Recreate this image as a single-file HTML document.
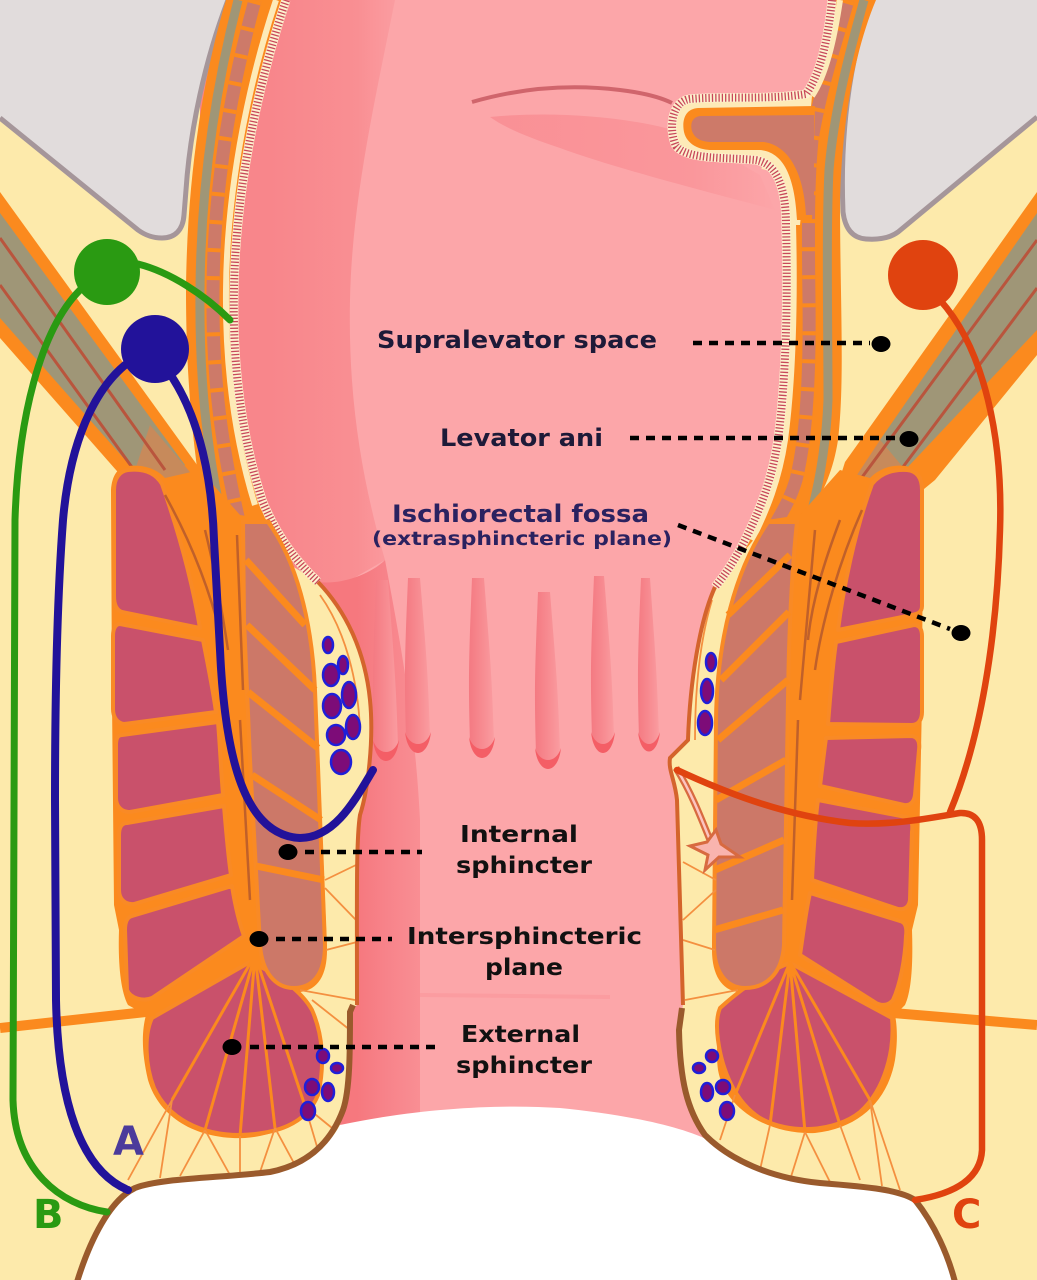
<!DOCTYPE html>
<html><head><meta charset="utf-8"><style>html,body{margin:0;padding:0;background:#fff}svg{display:block}</style></head>
<body>
<svg width="1037" height="1280" viewBox="0 0 1037 1280" xmlns="http://www.w3.org/2000/svg">
<defs>
<linearGradient id="dk" gradientUnits="userSpaceOnUse" x1="270" y1="0" x2="405" y2="0">
<stop offset="0" stop-color="#f8868b"/><stop offset="0.65" stop-color="#f98f93"/><stop offset="1" stop-color="#fba0a4"/></linearGradient>
<linearGradient id="canal" gradientUnits="userSpaceOnUse" x1="357" y1="0" x2="422" y2="0">
<stop offset="0" stop-color="#f6787e"/><stop offset="0.45" stop-color="#f7838a"/><stop offset="1" stop-color="#f98f94"/></linearGradient>
<linearGradient id="colg" x1="0" y1="0" x2="1" y2="0">
<stop offset="0" stop-color="#f47a82"/><stop offset="0.5" stop-color="#f78a90"/><stop offset="1" stop-color="#fa9ca0"/></linearGradient>
<linearGradient id="wedge" gradientUnits="userSpaceOnUse" x1="490" y1="0" x2="780" y2="0">
<stop offset="0" stop-color="#f57078" stop-opacity="0.4"/><stop offset="0.7" stop-color="#f57078" stop-opacity="0.28"/><stop offset="1" stop-color="#f57078" stop-opacity="0"/></linearGradient>
</defs>

<!-- background fat -->
<rect x="0" y="0" width="1037" height="1280" fill="#fdeaab"/>

<!-- lumen -->
<path d="M 250,0 L 840,0 L 820,90 L 790,160 L 786,225 C 788,300 786,380 778,440 C 772,480 760,510 745,540 C 735,560 725,575 715,587 C 700,620 690,680 688,740 L 670,758 C 668,770 675,780 677,800 L 683,1005 L 679,1030 C 680,1080 687,1110 712,1142 L 340,1125 C 348,1100 350,1060 350,1012 L 357,1005 C 357,900 356,840 360,815 C 368,790 374,740 370,700 C 365,650 345,610 318,582 L 200,300 Z" fill="#fca6a9"/>
<path d="M 200,0 L 395,0 C 375,100 352,200 350,300 C 348,400 362,480 385,560 L 330,592 L 318,582 L 250,540 L 200,400 Z" fill="url(#dk)"/>
<path d="M 318,582 C 345,610 365,650 370,700 C 374,740 368,790 360,815 C 356,840 357,900 357,1005 L 350,1012 C 350,1060 348,1100 340,1125 L 420,1115 L 420,820 C 415,720 400,640 385,560 C 370,575 340,585 318,582 Z" fill="url(#canal)"/>
<path d="M 420,995 L 610,997" stroke="#fb9ca0" stroke-width="4"/>

<!-- fold shading -->
<path d="M 490,117 C 560,110 640,118 690,135 L 760,175 L 775,210 C 720,195 620,170 560,148 C 530,138 505,128 490,117 Z" fill="url(#wedge)"/>
<path d="M 472,102 C 520,88 570,84 620,90 C 645,93 662,98 672,103" fill="none" stroke="#d0656c" stroke-width="4"/>

<!-- anal columns -->
<g fill="url(#colg)">
<path d="M 376,580 C 373,660 372,680 374,745 C 380,762 392,762 398,745 C 396,680 394,660 388,580 Z"/>
<path d="M 408,578 C 405,650 404,672 406,737 C 412,754 424,754 430,737 C 428,672 426,650 420,578 Z"/>
<path d="M 472,578 C 469,655 468,677 470,742 C 476,759 488,759 494,742 C 492,677 490,655 484,578 Z"/>
<path d="M 538,592 C 535,668 534,688 536,753 C 542,770 554,770 560,753 C 558,688 556,668 550,592 Z"/>
<path d="M 594,576 C 591,650 590,672 592,737 C 598,754 608,754 614,737 C 612,672 610,650 604,576 Z"/>
<path d="M 641,578 C 638,650 637,672 639,737 C 644,754 653,754 659,737 C 657,672 655,650 650,578 Z"/>
</g>
<g fill="#f45e66">
<path d="M 373,740 C 376,768 396,768 399,740 C 394,756 378,756 373,740 Z"/>
<path d="M 405,732 C 408,760 428,760 431,732 C 426,748 410,748 405,732 Z"/>
<path d="M 469,737 C 472,765 492,765 495,737 C 490,753 474,753 469,737 Z"/>
<path d="M 535,748 C 538,776 558,776 561,748 C 556,764 540,764 535,748 Z"/>
<path d="M 591,732 C 594,760 612,760 615,732 C 610,748 596,748 591,732 Z"/>
<path d="M 638,732 C 641,758 657,758 660,732 C 655,748 643,748 638,732 Z"/>
</g>

<!-- grey regions -->
<path d="M 0,0 L 228,0 C 205,60 190,130 186,190 L 184,215 C 183,230 175,238 162,238 C 152,238 145,235 138,230 L 0,118 Z" fill="#e1dcdc"/>
<path d="M 228,0 C 205,60 190,130 186,190 L 184,215 C 183,230 175,238 162,238 C 152,238 145,235 138,230 L 0,118" fill="none" stroke="#a5969a" stroke-width="5"/>
<path d="M 872,0 L 1037,0 L 1037,117 L 898,232 C 890,238 880,240 866,239 C 852,238 845,228 843,212 C 840,140 848,60 872,0 Z" fill="#e1dcdc"/>
<path d="M 1037,117 L 898,232 C 890,238 880,240 866,239 C 852,238 845,228 843,212 C 840,140 848,60 872,0" fill="none" stroke="#a5969a" stroke-width="5"/>

<!-- levator ani -->
<path d="M 0,192 L 195,462 L 235,520 L 215,560 L 160,520 L 0,338 Z" fill="#fb8a1e"/>
<path d="M 0,213 L 185,465 L 150,488 L 0,318 Z" fill="#9f9677"/>
<path d="M 150,425 L 195,478 L 175,515 L 135,470 Z" fill="#c78a5b"/>
<path d="M 0,238 L 165,470 M 0,285 L 150,492" stroke="#b9553d" stroke-width="3"/>
<path d="M 1037,192 L 845,462 L 830,510 L 880,525 L 935,480 L 1037,355 Z" fill="#fb8a1e"/>
<path d="M 1037,213 L 880,440 L 905,470 L 1037,330 Z" fill="#9f9677"/>
<path d="M 880,440 L 905,470 L 880,505 L 855,478 Z" fill="#c78a5b"/>
<path d="M 1037,240 L 860,480 M 1037,288 L 882,495" stroke="#b9553d" stroke-width="3"/>

<!-- left wall -->
<path d="M 226,0 L 286,0 C 266,60 236,170 234,290 C 232,380 246,450 262,500 C 278,540 300,565 318,582 L 300,560 L 245,530 L 205,520 C 193,450 186,380 186,290 C 187,170 205,70 226,0 Z" fill="#fb8a1e"/>
<path d="M 238,0 C 220,70 201,170 200,290 C 199,380 207,450 222,520" fill="none" stroke="#9f9677" stroke-width="9"/>
<path d="M 255,0 C 236,70 214,170 213,290 C 212,380 222,450 240,525" fill="none" stroke="#cd7a69" stroke-width="13"/>
<path d="M 255,0 C 236,70 214,170 213,290 C 212,380 222,450 240,525" fill="none" stroke="#fb8a1e" stroke-width="13" stroke-dasharray="4 24"/>
<path d="M 276,0 C 256,60 227,170 226,290 C 225,380 238,450 255,505" fill="none" stroke="#fdeab8" stroke-width="6"/>
<path d="M 286,0 C 266,60 236,170 234,290 C 232,380 246,450 262,500 C 278,540 300,565 318,582" fill="none" stroke="#fdf1cf" stroke-width="9"/>
<path d="M 286,0 C 266,60 236,170 234,290 C 232,380 246,450 262,500 C 278,540 300,565 318,582" fill="none" stroke="#c8485a" stroke-width="8" stroke-dasharray="1.3 2"/>

<!-- right wall -->
<path d="M 832,0 L 876,0 C 855,50 842,120 840,200 C 840,300 845,380 838,440 C 832,480 815,510 797,525 L 768,522 L 715,587 C 725,575 735,560 745,540 C 760,510 772,480 778,440 C 786,380 788,300 786,225 L 806,94 C 820,75 828,40 832,0 Z" fill="#fb8a1e"/>
<path d="M 864,0 C 850,50 834,110 829,170 C 826,230 828,330 828,400 C 826,450 818,490 808,525" fill="none" stroke="#9f9677" stroke-width="9"/>
<path d="M 848,0 C 835,45 820,90 812,140 C 808,180 808,230 809,300 C 810,380 806,440 796,480 C 790,500 782,512 775,525" fill="none" stroke="#cd7a69" stroke-width="13"/>
<path d="M 848,0 C 835,45 820,90 812,140 C 808,180 808,230 809,300 C 810,380 806,440 796,480 C 790,500 782,512 775,525" fill="none" stroke="#fb8a1e" stroke-width="13" stroke-dasharray="4 24"/>
<path d="M 806,94 C 770,100 720,96 690,99 C 672,101 668,128 676,146 C 688,160 725,157 755,160 C 778,163 786,190 786,225 L 800,225 L 812,96 Z" fill="#fdeab8"/>
<path d="M 815,106 L 698,108 C 684,109 682,122 684,132 C 687,145 700,150 712,150 L 760,150 C 785,152 795,180 797,220 L 812,220 Z" fill="#fb8a1e"/>
<path d="M 814,115 L 700,116 C 692,117 690,124 692,131 C 695,139 702,142 712,142 L 764,142 C 790,146 804,175 806,215 L 814,215 Z" fill="#cd7a69"/>
<path d="M 840,0 C 834,40 826,75 812,96 M 762,166 C 785,170 793,195 793,225 C 795,300 793,380 785,440 C 779,480 767,510 752,540" fill="none" stroke="#fdeab8" stroke-width="6"/>
<path d="M 832,0 C 828,40 820,75 806,94 C 770,100 720,96 690,99 C 672,101 668,128 676,146 C 688,160 725,157 755,160 C 778,163 786,190 786,225 C 788,300 786,380 778,440 C 772,480 760,510 745,540 C 735,560 725,575 715,587" fill="none" stroke="#fdf1cf" stroke-width="9"/>
<path d="M 832,0 C 828,40 820,75 806,94 C 770,100 720,96 690,99 C 672,101 668,128 676,146 C 688,160 725,157 755,160 C 778,163 786,190 786,225 C 788,300 786,380 778,440 C 772,480 760,510 745,540 C 735,560 725,575 715,587" fill="none" stroke="#c8485a" stroke-width="8" stroke-dasharray="1.3 2"/>

<!-- left sphincter complex -->
<path d="M 128,466 C 145,464 158,470 165,478 L 200,470 L 240,515 L 270,520 C 292,556 312,618 316,680 L 327,950 C 327,975 318,990 300,992 C 318,1015 326,1050 322,1080 C 316,1115 285,1135 245,1138 C 200,1140 160,1120 148,1080 C 141,1050 142,1030 146,1015 L 128,1005 C 120,990 118,960 119,930 L 114,905 L 112,700 L 111,490 C 112,475 118,467 128,466 Z" fill="#fb8a1e"/>
<g fill="#c9516b" stroke="#f98a25" stroke-width="4" stroke-linejoin="round">
<path d="M 128,470 C 145,468 156,474 162,484 C 178,530 192,580 200,628 L 122,612 C 116,610 114,604 114,596 L 114,490 C 114,478 120,471 128,470 Z"/>
<path d="M 120,624 L 203,640 C 208,665 213,690 216,712 L 124,724 C 117,723 113,717 113,709 L 113,636 C 113,628 116,624 120,624 Z"/>
<path d="M 122,735 L 218,722 C 220,745 221,770 223,795 L 130,812 C 121,812 116,806 116,798 L 116,745 C 116,738 118,735 122,735 Z"/>
<path d="M 127,823 L 224,806 C 226,830 228,855 231,875 L 134,904 C 125,905 119,899 119,890 L 119,835 C 119,827 122,823 127,823 Z"/>
<path d="M 132,916 L 232,886 C 235,905 239,922 244,936 L 152,998 C 143,1002 130,998 127,990 L 125,930 C 125,922 127,917 132,916 Z"/>
<path d="M 152,1018 L 250,962 C 280,975 302,992 312,1010 C 323,1035 325,1065 318,1095 C 306,1125 275,1134 240,1135 C 200,1135 168,1118 154,1088 C 145,1065 144,1035 152,1018 Z"/>
</g>
<path d="M 243,522 L 268,522 C 296,560 312,620 315,690 L 325,945 C 325,975 312,988 294,988 C 275,988 262,972 260,945 L 250,760 L 244,620 Z" fill="#cc7868" stroke="#f98a25" stroke-width="4"/>
<path d="M 246,560 L 305,625 M 247,625 L 315,690 M 248,692 L 318,748 M 252,775 L 321,820 M 256,866 L 324,880" stroke="#fb8a1e" stroke-width="7"/>
<path d="M 0,1028 L 155,1011" stroke="#fb8a1e" stroke-width="10"/>
<path d="M 205,530 C 215,570 222,610 228,650 M 237,535 L 243,690 M 165,495 C 190,540 210,590 222,640 M 240,720 L 250,900" fill="none" stroke="#c0602a" stroke-width="2.5"/>
<path d="M 255,955 L 172,1100 M 255,955 L 205,1130 M 255,955 L 240,1136 M 255,955 L 275,1128 M 255,955 L 305,1106" stroke="#fb8a1e" stroke-width="3"/>
<path d="M 172,1100 L 128,1180 M 172,1100 L 160,1178 M 205,1130 L 180,1176 M 205,1130 L 230,1175 M 240,1136 L 240,1174 M 275,1128 L 260,1172 M 275,1128 L 295,1165 M 305,1106 L 318,1150 M 305,1106 L 332,1128 M 325,880 L 356,865 M 325,888 L 356,920 M 326,950 L 357,942 M 300,990 L 355,1000 M 312,1000 L 350,1030 M 320,595 C 345,630 358,680 360,730" fill="none" stroke="#f49040" stroke-width="1.8"/>

<!-- right sphincter complex -->
<path d="M 905,466 C 890,464 878,470 870,478 L 840,470 L 800,515 L 767,520 C 745,556 722,618 718,680 L 712,950 C 712,975 722,990 738,992 C 722,1010 714,1040 718,1070 C 725,1110 770,1135 815,1133 C 860,1128 888,1100 895,1060 C 898,1040 897,1025 895,1015 L 905,1005 C 912,990 913,960 912,930 L 918,905 L 922,700 L 923,490 C 922,475 915,467 905,466 Z" fill="#fb8a1e"/>
<g fill="#c9516b" stroke="#f98a25" stroke-width="4" stroke-linejoin="round">
<path d="M 907,470 C 918,471 922,479 922,490 L 922,606 C 922,612 918,614 912,615 L 838,630 C 843,590 855,530 872,484 C 880,474 892,469 907,470 Z"/>
<path d="M 914,625 C 920,625 922,630 922,636 L 922,712 C 922,720 918,725 912,725 L 828,724 C 830,700 832,670 836,642 Z"/>
<path d="M 912,736 C 918,737 920,742 919,750 L 915,795 C 914,802 910,806 904,805 L 820,786 C 822,770 824,752 826,738 Z"/>
<path d="M 906,817 C 912,818 913,824 912,832 L 910,900 C 909,907 905,910 898,909 L 812,880 C 813,860 815,820 818,800 Z"/>
<path d="M 900,921 C 906,922 907,928 906,936 C 905,960 900,985 893,1000 C 888,1006 882,1006 876,1003 L 800,955 C 803,935 806,910 810,893 Z"/>
<path d="M 790,963 L 892,1018 C 895,1050 885,1090 860,1112 C 835,1132 790,1135 760,1118 C 735,1102 722,1070 718,1040 C 716,1025 717,1015 720,1008 C 740,990 765,972 790,963 Z"/>
</g>
<path d="M 768,522 L 797,522 C 793,560 789,620 788,700 L 784,945 C 782,975 765,988 745,988 C 725,988 714,970 714,945 L 716,720 C 717,640 735,570 768,522 Z" fill="#cc7868" stroke="#f98a25" stroke-width="4"/>
<path d="M 790,555 L 728,615 M 789,612 L 721,680 M 788,680 L 718,740 M 786,760 L 716,800 M 784,840 L 715,870 M 783,910 L 714,930" stroke="#fb8a1e" stroke-width="7"/>
<path d="M 1037,1025 L 893,1013" stroke="#fb8a1e" stroke-width="10"/>
<path d="M 815,530 L 800,700 M 840,520 C 825,560 812,600 808,640 M 862,510 C 840,560 822,620 815,670 M 798,720 L 792,900" fill="none" stroke="#c0602a" stroke-width="2.5"/>
<path d="M 790,962 L 735,1095 M 790,962 L 770,1125 M 790,962 L 805,1132 M 790,962 L 840,1125 M 790,962 L 870,1100" stroke="#fb8a1e" stroke-width="3"/>
<path d="M 735,1095 L 720,1140 M 770,1125 L 760,1170 M 805,1132 L 790,1180 M 805,1132 L 830,1182 M 840,1125 L 860,1180 M 870,1100 L 900,1190 M 870,1100 L 882,1186 M 716,880 L 683,862 M 716,890 L 683,920 M 715,950 L 683,940 M 738,990 L 685,1000 M 712,600 C 700,640 695,690 695,740" fill="none" stroke="#f49040" stroke-width="1.8"/>

<!-- vessels -->
<g fill="#7d0c78" stroke="#1f1fd8" stroke-width="2.5">
<ellipse cx="328" cy="645" rx="5" ry="8"/>
<ellipse cx="343" cy="665" rx="5" ry="9"/>
<ellipse cx="331" cy="675" rx="8" ry="11"/>
<ellipse cx="349" cy="695" rx="7" ry="13"/>
<ellipse cx="332" cy="706" rx="9" ry="12"/>
<ellipse cx="353" cy="727" rx="7" ry="12"/>
<ellipse cx="336" cy="735" rx="9" ry="10"/>
<ellipse cx="341" cy="762" rx="10" ry="12"/>
<ellipse cx="323" cy="1056" rx="6" ry="7"/>
<ellipse cx="337" cy="1068" rx="6" ry="5"/>
<ellipse cx="312" cy="1087" rx="7" ry="8"/>
<ellipse cx="328" cy="1092" rx="6" ry="9"/>
<ellipse cx="308" cy="1111" rx="7" ry="9"/>
<ellipse cx="711" cy="662" rx="5" ry="9"/>
<ellipse cx="707" cy="691" rx="6" ry="12"/>
<ellipse cx="705" cy="723" rx="7" ry="12"/>
<ellipse cx="712" cy="1056" rx="6" ry="6"/>
<ellipse cx="699" cy="1068" rx="6" ry="5"/>
<ellipse cx="707" cy="1092" rx="6" ry="9"/>
<ellipse cx="723" cy="1087" rx="7" ry="7"/>
<ellipse cx="727" cy="1111" rx="7" ry="9"/>
</g>

<!-- anal edges -->
<path d="M 318,582 C 345,610 365,650 370,700 C 374,740 368,790 360,815 C 356,840 357,900 357,1005" fill="none" stroke="#d4642c" stroke-width="4"/>
<path d="M 715,587 C 700,620 690,680 688,740 L 670,758 C 668,770 675,780 677,800 L 683,1005" fill="none" stroke="#d4642c" stroke-width="4"/>

<!-- white bottom -->
<path d="M 77,1285 L 77,1280 C 90,1240 110,1200 135,1188 C 160,1178 220,1178 270,1172 C 305,1165 330,1145 340,1125 C 420,1108 500,1104 560,1108 C 620,1114 680,1125 712,1142 C 740,1163 780,1180 820,1183 C 870,1187 900,1190 915,1200 C 935,1225 948,1255 955,1285 Z" fill="#ffffff"/>
<path d="M 353,1005 L 350,1012 C 350,1050 350,1090 343,1110 C 330,1145 305,1165 270,1172 C 220,1178 160,1178 135,1188 C 110,1200 90,1240 77,1282" fill="none" stroke="#9a5a2c" stroke-width="6"/>
<path d="M 682,1008 L 679,1030 C 680,1080 687,1110 705,1135 C 730,1160 770,1178 820,1183 C 870,1187 900,1190 915,1200 C 935,1225 948,1255 955,1282" fill="none" stroke="#9a5a2c" stroke-width="6"/>

<!-- fistula tract -->
<path d="M 676,768 C 690,790 700,815 712,845" fill="none" stroke="#d86a40" stroke-width="7"/>
<path d="M 676,768 C 690,790 700,815 712,845" fill="none" stroke="#fcc4c0" stroke-width="2.5"/>
<path d="M 690,846 L 707,842 L 716,830 L 721,844 L 740,857 L 719,857 L 705,870 L 708,855 Z" fill="#f9b4ae" stroke="#d86a40" stroke-width="3"/>

<!-- fistula paths -->
<g fill="none" stroke-linecap="round">
<path d="M 80,290 C 40,330 18,420 15,520 L 13,1100 C 15,1170 60,1205 107,1212" stroke="#2a9a12" stroke-width="7"/>
<path d="M 138,264 C 170,272 205,295 230,320" stroke="#2a9a12" stroke-width="7"/>
<path d="M 125,365 C 95,390 70,440 63,520 C 57,600 55,700 55,800 L 56,1000 C 58,1100 80,1170 128,1190" stroke="#22129a" stroke-width="8"/>
<path d="M 172,377 C 200,420 212,480 214,540 L 220,650 C 225,760 245,835 300,838 C 335,838 355,800 373,770" stroke="#22129a" stroke-width="8"/>
<path d="M 940,300 C 985,350 1003,440 1000,530 C 997,640 980,740 950,812" stroke="#e0430f" stroke-width="6.5"/>
<path d="M 677,770 C 720,790 780,815 850,823 C 890,826 930,818 960,813 Q 982,812 982,840 L 982,1150 Q 980,1190 915,1200" stroke="#e0430f" stroke-width="6.5"/>
</g>
<circle cx="107" cy="272" r="33" fill="#2a9a12"/>
<circle cx="155" cy="349" r="34" fill="#22129a"/>
<circle cx="923" cy="275" r="35" fill="#e0430f"/>

<!-- dotted leaders -->
<g stroke="#000" stroke-width="4.5" stroke-dasharray="9 7" fill="none">
<path d="M 693,343 L 870,343"/>
<path d="M 630,438 L 898,438"/>
<path d="M 678,525 L 950,629"/>
<path d="M 305,852 L 422,852"/>
<path d="M 276,939 L 392,939"/>
<path d="M 250,1047 L 436,1047"/>
</g>
<g fill="#000">
<ellipse cx="881" cy="344" rx="9.5" ry="8"/>
<ellipse cx="909" cy="439" rx="9.5" ry="8"/>
<ellipse cx="961" cy="633" rx="9.5" ry="8"/>
<ellipse cx="288" cy="852" rx="9.5" ry="8"/>
<ellipse cx="259" cy="939" rx="9.5" ry="8"/>
<ellipse cx="232" cy="1047" rx="9.5" ry="8"/>
</g>

<!-- labels -->
<g font-family="'DejaVu Sans', 'Liberation Sans', sans-serif" font-weight="bold">
<text x="377" y="348" font-size="24" fill="#1d1a38" textLength="280" lengthAdjust="spacingAndGlyphs">Supralevator space</text>
<text x="440" y="446" font-size="24" fill="#1d1a38" textLength="163" lengthAdjust="spacingAndGlyphs">Levator ani</text>
<text x="392" y="522" font-size="24" fill="#2b2260" textLength="257" lengthAdjust="spacingAndGlyphs">Ischiorectal fossa</text>
<text x="372" y="545" font-size="18.5" fill="#2b2260" textLength="300" lengthAdjust="spacingAndGlyphs">(extrasphincteric plane)</text>
<text x="460" y="842" font-size="23" fill="#111" textLength="118" lengthAdjust="spacingAndGlyphs">Internal</text>
<text x="456" y="873" font-size="23" fill="#111" textLength="136" lengthAdjust="spacingAndGlyphs">sphincter</text>
<text x="407" y="944" font-size="23" fill="#111" textLength="235" lengthAdjust="spacingAndGlyphs">Intersphincteric</text>
<text x="485" y="975" font-size="23" fill="#111" textLength="78" lengthAdjust="spacingAndGlyphs">plane</text>
<text x="461" y="1042" font-size="23" fill="#111" textLength="119" lengthAdjust="spacingAndGlyphs">External</text>
<text x="456" y="1073" font-size="23" fill="#111" textLength="136" lengthAdjust="spacingAndGlyphs">sphincter</text>
<text x="113" y="1155" font-size="40" fill="#4b3b9b">A</text>
<text x="33" y="1228" font-size="40" fill="#2a9a12">B</text>
<text x="952" y="1228" font-size="40" fill="#e0430f">C</text>
</g>
</svg>
</body></html>
